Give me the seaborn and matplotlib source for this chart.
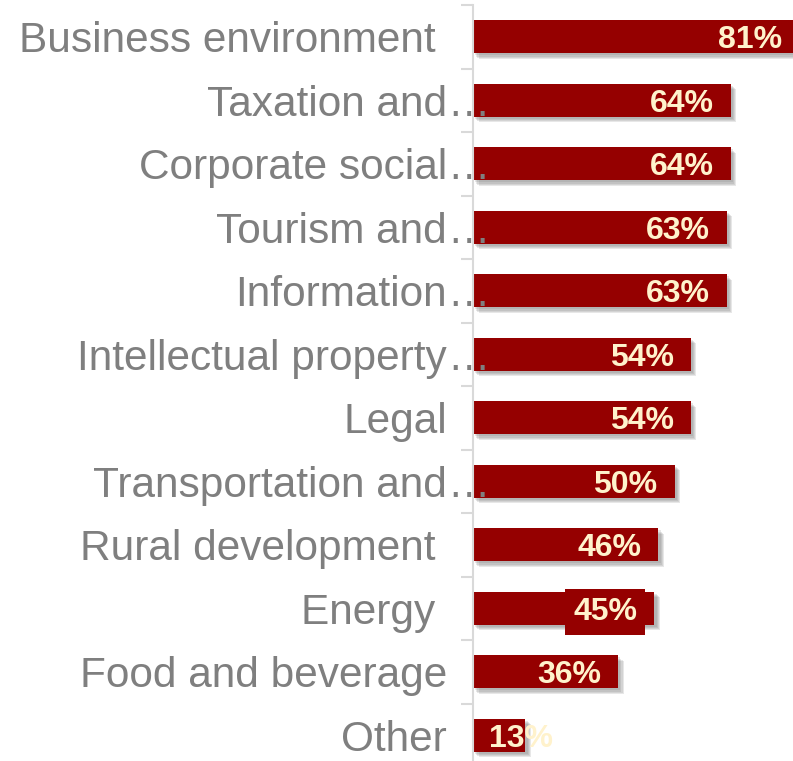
import matplotlib
matplotlib.use("Agg")
import matplotlib.pyplot as plt
import matplotlib.patheffects as pe
from matplotlib.transforms import ScaledTranslation
import numpy as np
import seaborn as sns

# Survey topics and share of respondents
categories = [
    "Business environment ",
    "Taxation and…",
    "Corporate social…",
    "Tourism and…",
    "Information…",
    "Intellectual property…",
    "Legal",
    "Transportation and…",
    "Rural development ",
    "Energy ",
    "Food and beverage",
    "Other",
]
values = [81, 64, 64, 63, 63, 54, 54, 50, 46, 45, 36, 13]
value_labels = [f"{v}%" for v in values]

BAR = "#950000"
LABEL_GREY = "#7f7f7f"
AXIS_GREY = "#d9d9d9"
VALUE_TXT = "#fff2cc"

sns.set_theme(style="white")
plt.rcParams["font.family"] = ["Liberation Sans", "DejaVu Sans"]

W, H = 793, 761
fig = plt.figure(figsize=(W / 100, H / 100), dpi=100)
# plot area: category axis at x=473 px, twelve rows of 63.5 px starting 5 px from the top
ax = fig.add_axes([473 / W, (H - 5 - 762) / H, 1 - 473 / W, 762 / H])

sns.barplot(x=values, y=list(range(len(categories))), orient="h", color=BAR,
            saturation=1, width=0.52, ax=ax, native_scale=True, linewidth=0)

# soft drop shadow built from a few stacked, faint offset copies
shadow = [pe.SimplePatchShadow(offset=(o, -o), shadow_rgbFace="#6e6e6e", alpha=0.16)
          for o in (4.0, 3.2, 2.4, 1.6)] + [pe.Normal()]
for p in ax.patches:
    p.set_path_effects(shadow)

ax.set_xlim(0, 79.4)
ax.set_ylim(len(categories) - 0.5, -0.5)

# spines: only the left category axis
for s in ["top", "right", "bottom"]:
    ax.spines[s].set_visible(False)
ax.spines["left"].set_color(AXIS_GREY)
ax.spines["left"].set_linewidth(1.5)
ax.set_xticks([])
ax.set_yticks(np.arange(-0.5, len(categories), 1.0))
ax.set_yticklabels([])
ax.tick_params(axis="y", length=9, width=1.5, color=AXIS_GREY, left=True)
ax.set_xlabel("")
ax.set_ylabel("")

# category labels; truncated names let the ellipsis run past the axis
off = ScaledTranslation(-26 / 100, 0, fig.dpi_scale_trans)
trans = ax.get_yaxis_transform() + off
for i, name in enumerate(categories):
    if name.endswith("…"):
        ax.text(0, i, name[:-1], transform=trans, ha="right", va="center_baseline",
                fontsize=30.5, color=LABEL_GREY, clip_on=False, zorder=5)
        ax.text(0, i, "…", transform=trans, ha="left", va="center_baseline",
                fontsize=30.5, color=LABEL_GREY, clip_on=False, zorder=5)
    else:
        ax.text(0, i, name, transform=trans, ha="right", va="center_baseline",
                fontsize=30.5, color=LABEL_GREY, clip_on=False, zorder=5)

# value labels at the inside end of each bar
for i, (v, lab) in enumerate(zip(values, value_labels)):
    kw = dict(va="center_baseline", fontsize=23, fontweight="bold", color=VALUE_TXT,
              clip_on=False, zorder=6)
    if v < 20:
        ax.text(4.0, i, lab, ha="left", **kw)
    elif lab == "45%":
        ax.text(v - 4.2, i, lab, ha="right",
                bbox=dict(boxstyle="square,pad=0.25", fc=BAR, ec="none"), **kw)
    else:
        ax.text(v - 4.2, i, lab, ha="right", **kw)

fig.savefig("out.png", dpi=100)
